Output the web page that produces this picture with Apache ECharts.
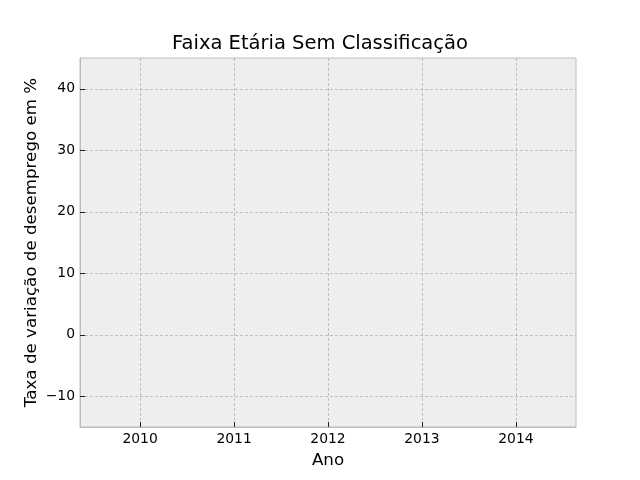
<!DOCTYPE html>
<html>
<head>
<meta charset="utf-8">
<script src="https://cdn.jsdelivr.net/npm/echarts@6/dist/echarts.min.js"></script>
<style>html,body{margin:0;padding:0;background:#fff}#c{width:640px;height:480px}</style>
</head>
<body>
<div id="c"></div>
<script>
// Data (the reference chart shows no data marks: all values missing)
const years = [2010, 2011, 2012, 2013, 2014];
const values = [null, null, null, null, null];
const xTicks = [2010, 2011, 2012, 2013, 2014];
const yTicks = [-10, 0, 10, 20, 30, 40];
const titleText = 'Faixa Etária Sem Classificação';
const xName = 'Ano';
const yName = 'Taxa de variação de desemprego em %';

const FONT = 'DejaVu Sans';
const chart = echarts.init(document.getElementById('c'), null, {renderer: 'canvas'});
chart.setOption({
  animation: false,
  backgroundColor: '#ffffff',
  title: {
    text: titleText, left: 'center', top: 29,
    textStyle: {fontFamily: FONT, fontSize: 19.5, fontWeight: 'normal', color: '#000'}
  },
  grid: {
    left: 80, right: 64, top: 58, bottom: 53,
    show: true, backgroundColor: '#eeeeee', borderColor: '#bcbcbc', borderWidth: 1,
    outerBoundsMode: 'none', containLabel: false
  },
  xAxis: {
    type: 'value', min: 2009.36, max: 2014.64, position: 'bottom',
    name: xName, nameLocation: 'middle', nameGap: 25, nameMoveOverlap: false,
    nameTextStyle: {fontFamily: FONT, fontSize: 16.7, color: '#000'},
    axisLine: {show: true, onZero: false, lineStyle: {color: '#bcbcbc', width: 1}},
    axisTick: {show: true, inside: true, length: 5, lineStyle: {color: '#222', width: 1}, customValues: xTicks},
    axisLabel: {fontFamily: FONT, fontSize: 13.9, color: '#000', margin: 5, customValues: xTicks,
      formatter: v => String(v)},
    splitLine: {show: true, lineStyle: {color: '#b2b2b2', type: [3, 2], width: 0.8}}
  },
  yAxis: {
    type: 'value', min: -15, max: 45, position: 'left',
    name: yName, nameLocation: 'middle', nameGap: 40, nameRotate: 90, nameMoveOverlap: false,
    nameTextStyle: {fontFamily: FONT, fontSize: 16.7, color: '#000'},
    axisLine: {show: true, onZero: false, lineStyle: {color: '#bcbcbc', width: 1}},
    axisTick: {show: true, inside: true, length: 5, lineStyle: {color: '#222', width: 1}, customValues: yTicks},
    axisLabel: {fontFamily: FONT, fontSize: 13.9, color: '#000', margin: 5, customValues: yTicks,
      formatter: v => String(v).replace('-', '\u2212')},
    splitLine: {show: true, lineStyle: {color: '#b2b2b2', type: [3, 2], width: 0.8}}
  },
  series: [{
    type: 'line', data: years.map((y, i) => [y, values[i]]),
    showSymbol: false, connectNulls: false, lineStyle: {color: '#348abd'}
  }]
});
</script>
</body>
</html>
